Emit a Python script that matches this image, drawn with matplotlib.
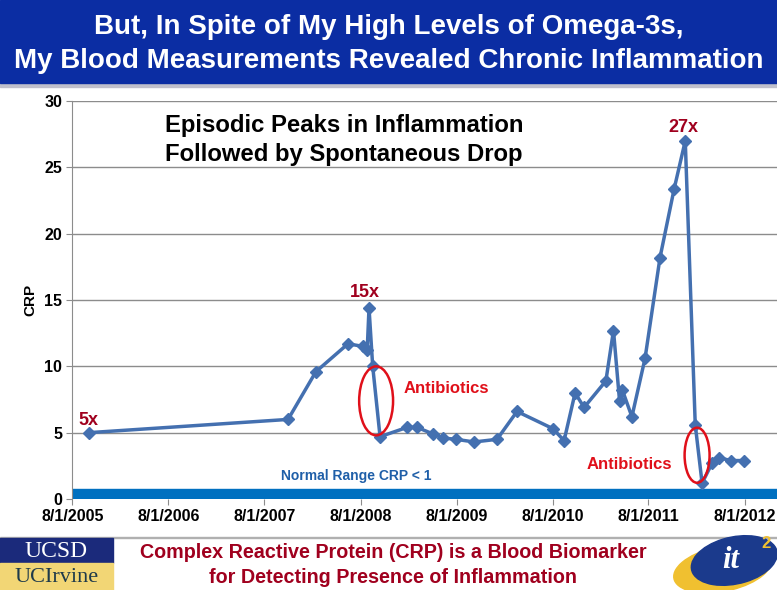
import matplotlib
matplotlib.use("Agg")
import matplotlib.pyplot as plt
import matplotlib.dates as mdates
from matplotlib.patches import Ellipse, Rectangle
from matplotlib.ticker import FuncFormatter
import datetime as dt

dates = ["2005-10-01", "2007-10-30", "2008-02-13", "2008-06-14", "2008-08-11",
         "2008-08-26", "2008-09-02", "2008-09-16", "2008-10-14", "2009-01-25",
         "2009-03-04", "2009-05-04", "2009-06-11", "2009-07-30", "2009-10-07",
         "2010-01-02", "2010-03-19", "2010-08-03", "2010-09-14", "2010-10-26",
         "2010-11-29", "2011-02-20", "2011-03-21", "2011-04-13", "2011-04-24",
         "2011-05-30", "2011-07-19", "2011-09-14", "2011-11-07", "2011-12-19",
         "2012-01-26", "2012-02-21", "2012-03-30", "2012-04-26", "2012-06-11",
         "2012-07-30"]
crp = [5.0, 6.0, 9.6, 11.7, 11.5, 11.2, 14.4, 10.0, 4.7, 5.4,
       5.4, 4.9, 4.6, 4.5, 4.3, 4.5, 6.6, 5.3, 4.4, 8.0,
       6.9, 8.9, 12.7, 7.4, 8.2, 6.2, 10.6, 18.2, 23.4, 27.0,
       5.6, 1.2, 2.7, 3.1, 2.9, 2.9]
tick_years = [2005, 2006, 2007, 2008, 2009, 2010, 2011, 2012]
normal_max = 0.75

x = [dt.datetime.strptime(d, "%Y-%m-%d") for d in dates]

ARIAL = ["Liberation Sans", "DejaVu Sans"]
SERIF = ["Liberation Serif", "DejaVu Serif"]
plt.rcParams["font.family"] = ARIAL

fig = plt.figure(figsize=(7.77, 5.9), dpi=100)
renderer = fig.canvas.get_renderer()

def fit(t, width_px):
    # shrink/grow a text so it spans the width seen in the reference
    w = t.get_window_extent(renderer).width
    t.set_fontsize(t.get_fontsize() * width_px / w)

# title band
fig.patches.append(Rectangle((0, 0.853), 1, 0.007, transform=fig.transFigure,
                             color="#c0c0cc", zorder=0))
fig.patches.append(Rectangle((0, 0.8593), 1, 0.1407, transform=fig.transFigure,
                             color="#0B2DA3", zorder=1))
t1 = fig.text(0.5, 0.955, "But, In Spite of My High Levels of Omega-3s,", ha="center",
              va="center", color="white", fontsize=22, fontweight="bold")
t2 = fig.text(0.5, 0.897, "My Blood Measurements Revealed Chronic Inflammation",
              ha="center", va="center", color="white", fontsize=22, fontweight="bold")
fit(t2, 750)
t1.set_fontsize(t2.get_fontsize())

ax = fig.add_axes([0.0933, 0.1542, 0.9067, 0.6746])
start = dt.datetime(2005, 8, 1)
ax.set_xlim(start, start + dt.timedelta(days=2680))
ax.set_ylim(0, 30)

ax.axhspan(0, normal_max, color="#0070C0", zorder=2)
ax.plot(x, crp, color="#4470B0", lw=2.5, marker="D", markersize=6.5, zorder=4)

ax.set_yticks(range(0, 31, 5))
ax.set_xticks([dt.datetime(y, 8, 1) for y in tick_years])
ax.xaxis.set_major_formatter(FuncFormatter(
    lambda v, p: (lambda d: f"{d.month}/{d.day}/{d.year}")(mdates.num2date(v))))
ax.grid(axis="y", color="#8c8c8c", lw=1)
ax.set_axisbelow(True)
for s in ["top", "right", "bottom"]:
    ax.spines[s].set_visible(False)
ax.spines["left"].set_color("#8c8c8c")
ax.tick_params(axis="both", colors="#8c8c8c", labelcolor="black", labelsize=11.5,
               length=4)
for lab in ax.get_xticklabels() + ax.get_yticklabels():
    lab.set_fontweight("bold")
ax.set_ylabel("CRP", fontsize=11, fontweight="bold", labelpad=5)

def d(s):
    return dt.datetime.strptime(s, "%Y-%m-%d")

ep = ax.text(0.131, 0.902, "Episodic Peaks in Inflammation\nFollowed by Spontaneous Drop",
             transform=ax.transAxes, ha="left", va="center", fontsize=15,
             fontweight="bold", linespacing=1.3)
fit(ep, 360)
darkred = "#A0001E"
ax.text(d("2008-08-18"), 15.6, "15x", color=darkred, fontsize=13, fontweight="bold",
        ha="center", va="center")
ax.text(d("2011-12-10"), 28.0, "27x", color=darkred, fontsize=13, fontweight="bold",
        ha="center", va="center")
ax.text(d("2005-10-01"), 5.9, "5x", color=darkred, fontsize=13, fontweight="bold",
        ha="center", va="center")
red = "#E0101A"
ax.text(d("2009-06-24"), 8.3, "Antibiotics", color=red, fontsize=12,
        fontweight="bold", ha="center", va="center")
ax.text(d("2011-05-19"), 2.6, "Antibiotics", color=red, fontsize=12,
        fontweight="bold", ha="center", va="center")
ax.add_patch(Ellipse((mdates.date2num(d("2008-09-29")), 7.4), 129, 5.2,
                     fill=False, edgecolor=red, lw=1.8, zorder=5))
ax.add_patch(Ellipse((mdates.date2num(d("2012-02-02")), 3.3), 95, 4.15,
                     fill=False, edgecolor=red, lw=1.8, zorder=5))
ax.text(d("2008-07-15"), 1.7, "Normal Range CRP < 1", color="#1F5FA8", fontsize=10,
        fontweight="bold", ha="center", va="center")

# footer
fig.patches.append(Rectangle((0, 0.0885), 1, 0.002, transform=fig.transFigure,
                             color="#b0b0b0", zorder=1))
fig.patches.append(Rectangle((0, 0.0458), 0.1454, 0.0427, transform=fig.transFigure,
                             color="#1B2A7B", zorder=2))
fig.patches.append(Rectangle((0, 0.0), 0.1454, 0.0458, transform=fig.transFigure,
                             color="#F2D675", zorder=2))
fig.text(0.0727, 0.066, "UCSD", ha="center", va="center", color="white",
         fontsize=17, family=SERIF, zorder=3)
fig.text(0.0727, 0.022, "UCIrvine", ha="center", va="center", color="#1E3A4A",
         fontsize=16, family=SERIF, zorder=3)
f1 = fig.text(0.506, 0.063, "Complex Reactive Protein (CRP) is a Blood Biomarker",
              ha="center", va="center", color=darkred, fontsize=15, fontweight="bold")
f2 = fig.text(0.506, 0.022, "for Detecting Presence of Inflammation",
              ha="center", va="center", color=darkred, fontsize=15, fontweight="bold")
fit(f1, 510)
f2.set_fontsize(f1.get_fontsize())

# it2 logo
fig.patches.append(Ellipse((0.93, 0.036), 0.13, 0.075, angle=18,
                           transform=fig.transFigure, color="#F0C030", zorder=2))
fig.patches.append(Ellipse((0.945, 0.05), 0.115, 0.078, angle=22,
                           transform=fig.transFigure, color="#1B3A8C", zorder=3))
fig.text(0.94, 0.05, "it", ha="center", va="center", color="white", fontsize=22,
         style="italic", fontweight="bold", family=SERIF, zorder=4)
fig.text(0.986, 0.078, "2", ha="center", va="center", color="#F0C030", fontsize=12,
         fontweight="bold", zorder=4)

fig.savefig("out.png", dpi=100)
